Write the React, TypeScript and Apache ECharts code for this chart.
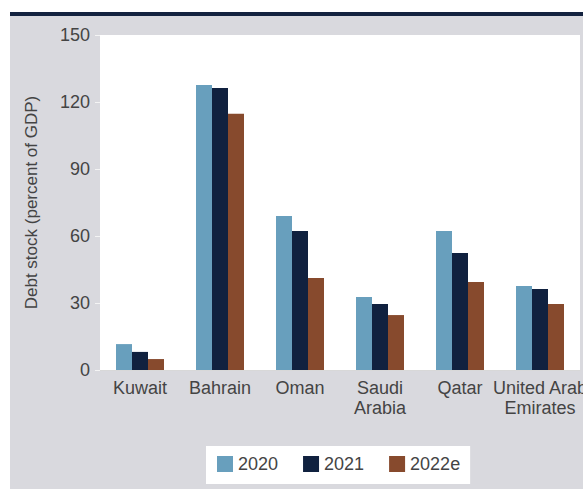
import React, { useEffect, useRef } from "react";
import * as echarts from "echarts";

const categories = ["Kuwait", "Bahrain", "Oman", "Saudi\nArabia", "Qatar", "United Arab\nEmirates"];
const seriesNames = ["2020", "2021", "2022e"];
const values2020 = [11.6, 127.6, 69.0, 32.7, 62.2, 37.6];
const values2021 = [8.1, 126.3, 62.2, 29.6, 52.4, 36.3];
const values2022e = [4.9, 114.7, 41.2, 24.6, 39.4, 29.6];
const colors = ["#689fbd", "#10213f", "#874a2d"];

const FONT = "'Liberation Sans', Arial, sans-serif";
const TEXT = "#444444";

export default function App() {
  const ref = useRef<HTMLDivElement>(null);
  useEffect(() => {
    if (!ref.current) return;
    const chart = echarts.init(ref.current, null, { renderer: "svg" });
    const data = [values2020, values2021, values2022e];
    chart.setOption({
      animation: false,
      backgroundColor: "transparent",
      textStyle: { fontFamily: FONT },
      grid: {
        left: 100,
        right: 63,
        top: 35,
        bottom: 119,
        show: true,
        backgroundColor: "#ffffff",
        borderWidth: 0,
        containLabel: false,
      },
      legend: {
        data: seriesNames,
        left: 206,
        top: 446,
        orient: "horizontal",
        icon: "rect",
        itemWidth: 16,
        itemHeight: 16,
        itemGap: 25,
        backgroundColor: "#ffffff",
        padding: [9, 10, 11, 11],
        textStyle: { fontSize: 18, color: TEXT, fontFamily: FONT },
      },
      xAxis: {
        type: "category",
        data: categories,
        axisLine: { show: true, lineStyle: { color: "#d8d8d8", width: 1 } },
        axisTick: { show: false },
        axisLabel: {
          interval: 0,
          fontSize: 18,
          color: TEXT,
          lineHeight: 20,
          margin: 8,
          fontFamily: FONT,
        },
      },
      yAxis: {
        type: "value",
        min: 0,
        max: 150,
        interval: 30,
        name: "Debt stock (percent of GDP)",
        nameLocation: "middle",
        nameGap: 60,
        nameTextStyle: { fontSize: 17, color: TEXT, fontFamily: FONT },
        axisLine: { show: false },
        axisTick: { show: true, length: 5, lineStyle: { color: "#f4f4f4" } },
        splitLine: { show: false },
        axisLabel: { fontSize: 18, color: TEXT, margin: 10, fontFamily: FONT },
      },
      series: seriesNames.map((name, i) => ({
        name,
        type: "bar",
        data: data[i],
        barWidth: 16,
        barGap: "0%",
        itemStyle: { color: colors[i] },
      })),
    });
    return () => chart.dispose();
  }, []);

  return (
    <div
      style={{
        position: "fixed",
        left: 0,
        top: 0,
        width: 583,
        height: 489,
        background: "#ffffff",
        overflow: "hidden",
      }}
    >
      <div
        style={{
          position: "absolute",
          left: 10,
          top: 12,
          width: 573,
          height: 477,
          background: "#d9d9de",
          borderTop: "4px solid #13223f",
          boxSizing: "border-box",
        }}
      />
      <div ref={ref} style={{ position: "absolute", left: 0, top: 0, width: 643, height: 489 }} />
    </div>
  );
}
